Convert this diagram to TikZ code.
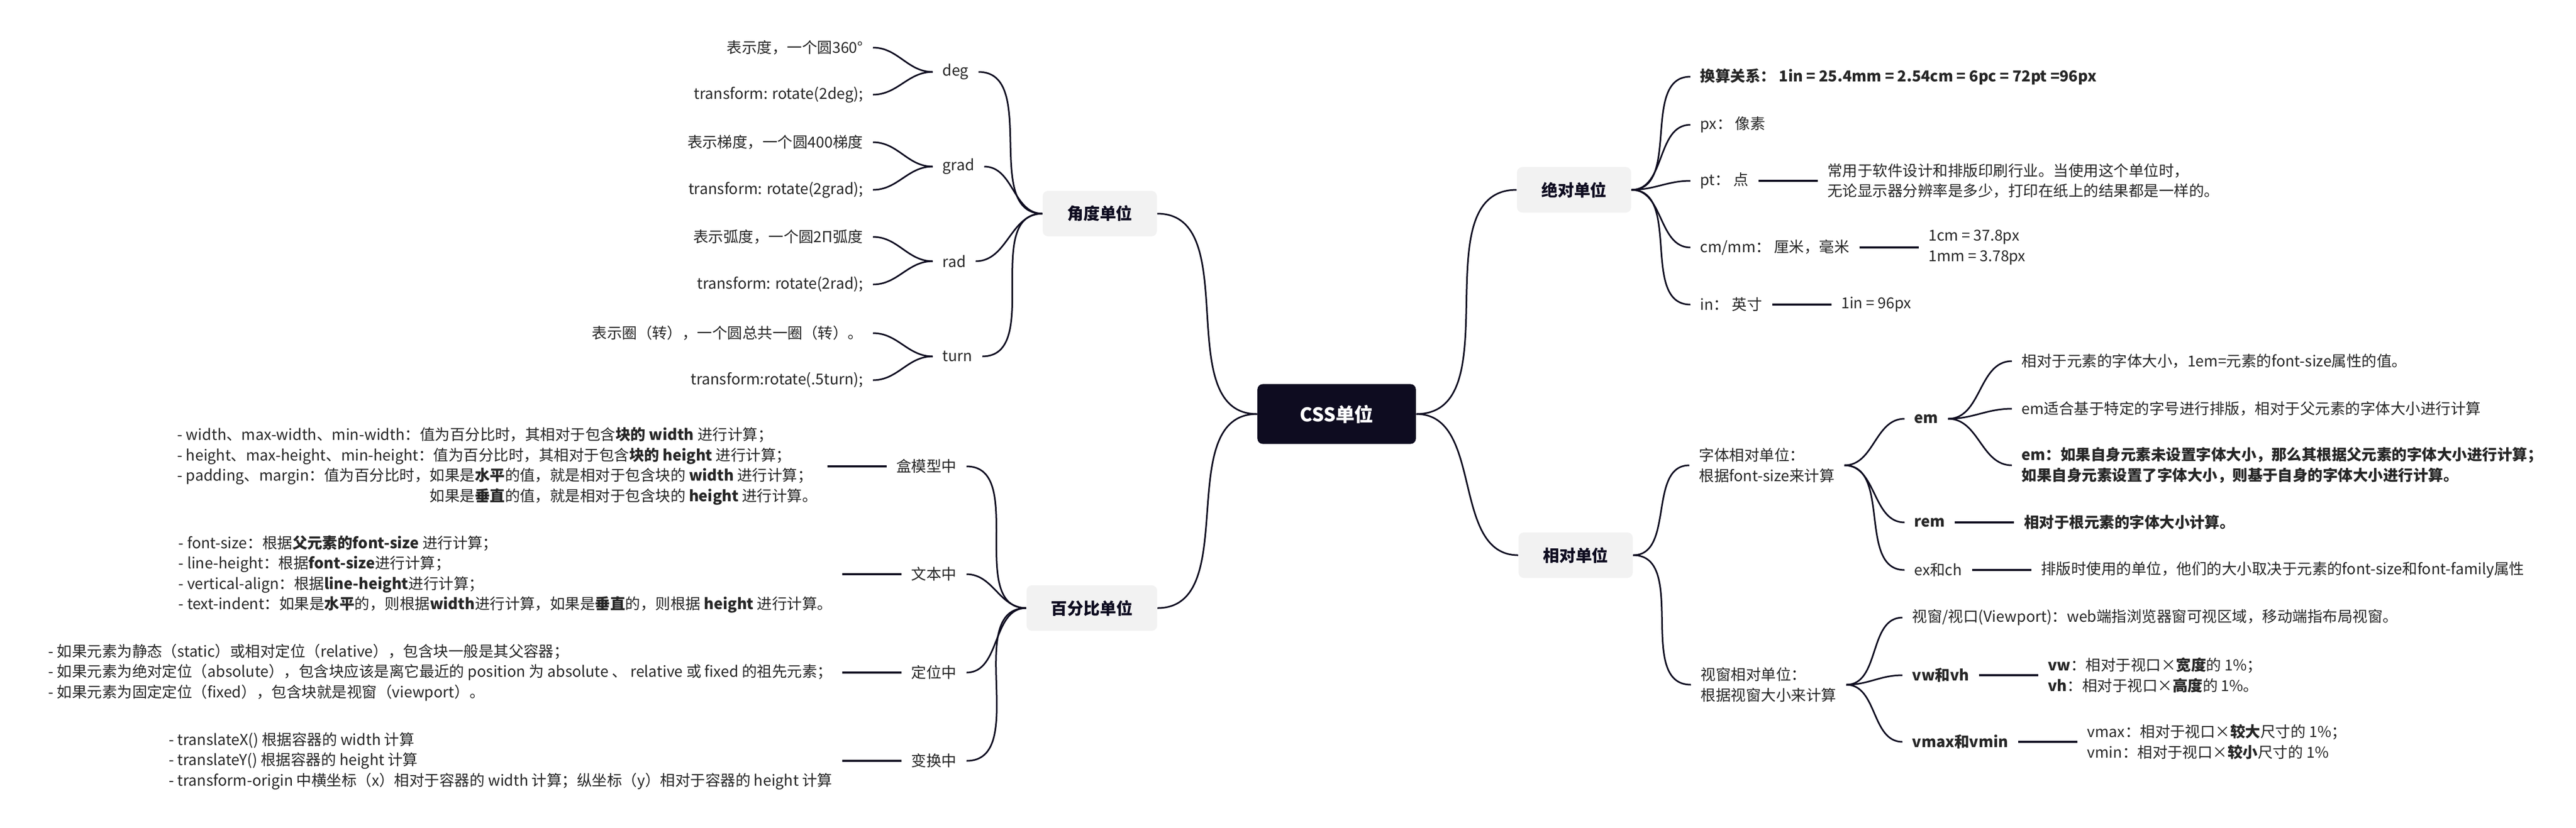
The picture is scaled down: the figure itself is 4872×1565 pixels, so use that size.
\documentclass[tikz,border=0pt]{standalone}
\usepackage{fontspec}
\setmainfont{Noto Sans CJK SC}
\usepackage{tikz}
\usetikzlibrary{positioning}
\definecolor{ink}{RGB}{14,12,32}
\definecolor{txt}{RGB}{38,38,38}
\definecolor{pale}{RGB}{242,242,242}
\tikzset{node distance=1.12cm,
  every node/.style={text=txt, font=\fontsize{8.1}{10.95}\selectfont, inner xsep=0.18cm, inner ysep=0.04cm, align=left},
  root/.style={fill=ink, text=white, rounded corners=0.1cm, font=\fontsize{10.2}{12}\selectfont\bfseries, inner xsep=0.8cm, minimum height=1.13cm},
  topic/.style={fill=pale, text=ink, rounded corners=0.1cm, font=\fontsize{8.8}{11}\selectfont\bfseries, inner xsep=0.46cm, minimum height=0.86cm},
  every edge/.style={draw=ink, line width=0.03cm},
  tol/.style={out=180, in=0}, tor/.style={out=0, in=180},
  stem/.style={line width=0.04cm}}

\begin{document}
\begin{tikzpicture}[x=0.01cm, y=-0.01cm]
\useasboundingbox (0,0) rectangle (4872,1565);
\node[root] (css) at (2528,783) {CSS单位};
\node[topic] (jiao) at (2080,404) {角度单位};
\node[topic] (bai) at (2065,1150) {百分比单位};
\node[topic] (jue) at (2977,359) {绝对单位};
\node[topic] (xiang) at (2980,1050) {相对单位};

\node[anchor=west] (deg) at (1764,136) {deg};
\node[anchor=west] (grad) at (1764,315) {grad};
\node[anchor=west] (rad) at (1764,494) {rad};
\node[anchor=west] (turn) at (1764,674) {turn};
\node[anchor=east] (deg1) at (1651,90) {表示度，一个圆360°};
\node[anchor=east] (deg2) at (1651,179) {transform: rotate(2deg);};
\node[anchor=east] (grad1) at (1651,269) {表示梯度，一个圆400梯度};
\node[anchor=east] (grad2) at (1651,359) {transform: rotate(2grad);};
\node[anchor=east] (rad1) at (1651,448) {表示弧度，一个圆2Π弧度};
\node[anchor=east] (rad2) at (1651,538) {transform: rotate(2rad);};
\node[anchor=east] (turn1) at (1651,630) {表示圈（转），一个圆总共一圈（转）。};
\node[anchor=east] (turn2) at (1651,719) {transform:rotate(.5turn);};

\node[anchor=east] (box) at (1828,882) {盒模型中};
\node[anchor=east] (text) at (1828,1086) {文本中};
\node[anchor=east] (pos) at (1828,1272) {定位中};
\node[anchor=east] (trans) at (1828,1439) {变换中};
\node[left=of box] (boxn) {- width、max-width、min-width：值为百分比时，其相对于包含\textbf{块的 width} 进行计算；\\
- height、max-height、min-height：值为百分比时，其相对于包含\textbf{块的 height} 进行计算；\\
- padding、margin：值为百分比时，如果是\textbf{水平}的值，就是相对于包含块的 \textbf{width} 进行计算；\\
\phantom{- padding、margin：值为百分比时，}如果是\textbf{垂直}的值，就是相对于包含块的 \textbf{height} 进行计算。};
\node[left=of text] (textn) {- font-size：根据\textbf{父元素的font-size} 进行计算；\\
- line-height：根据\textbf{font-size}进行计算；\\
- vertical-align：根据\textbf{line-height}进行计算；\\
- text-indent：如果是\textbf{水平}的，则根据\textbf{width}进行计算，如果是\textbf{垂直}的，则根据 \textbf{height} 进行计算。};
\node[left=of pos] (posn) {- 如果元素为静态（static）或相对定位（relative），包含块一般是其父容器；\\
- 如果元素为绝对定位（absolute），包含块应该是离它最近的 position 为 absolute 、 relative 或 fixed 的祖先元素；\\
- 如果元素为固定定位（fixed），包含块就是视窗（viewport）。};
\node[left=of trans] (transn) {- translateX() 根据容器的 width 计算\\
- translateY() 根据容器的 height 计算\\
- transform-origin 中横坐标（x）相对于容器的 width 计算；纵坐标（y）相对于容器的 height 计算};

\node[anchor=west] (rate) at (3197,145) {\textbf{换算关系：  1in = 25.4mm = 2.54cm = 6pc = 72pt =96px}};
\node[anchor=west] (px) at (3197,236) {px： 像素};
\node[anchor=west] (pt) at (3197,342) {pt：  点};
\node[anchor=west] (cm) at (3197,468) {cm/mm：  厘米，毫米};
\node[anchor=west] (inch) at (3197,576) {in：  英寸};
\node[right=of pt] (ptn) {常用于软件设计和排版印刷行业。当使用这个单位时，\\无论显示器分辨率是多少，打印在纸上的结果都是一样的。};
\node[right=of cm] (cmn) {1cm = 37.8px\\1mm = 3.78px};
\node[right=of inch] (inchn) {1in = 96px};

\node[anchor=west] (font) at (3195,880) {字体相对单位：\\根据font-size来计算};
\node[anchor=west] (view) at (3198,1295) {视窗相对单位：\\根据视窗大小来计算};
\node[anchor=west] (em) at (3602,792) {\textbf{em}};
\node[anchor=west] (rem) at (3602,988) {\textbf{rem}};
\node[anchor=west] (exch) at (3602,1078) {ex和ch};
\node[anchor=west] (em1) at (3805,683) {相对于元素的字体大小，1em=元素的font-size属性的值。};
\node[anchor=west] (em2) at (3805,773) {em适合基于特定的字号进行排版，相对于父元素的字体大小进行计算};
\node[anchor=west] (em3) at (3805,880) {\textbf{em：如果自身元素未设置字体大小，那么其根据父元素的字体大小进行计算；}\\\textbf{如果自身元素设置了字体大小，则基于自身的字体大小进行计算。}};
\node[right=of rem] (remn) {\textbf{相对于根元素的字体大小计算。}};
\node[right=of exch] (exchn) {排版时使用的单位，他们的大小取决于元素的font-size和font-family属性};
\node[anchor=west] (port) at (3598,1168) {视窗/视口(Viewport)：web端指浏览器窗可视区域，移动端指布局视窗。};
\node[anchor=west] (vw) at (3598,1277) {\textbf{vw和vh}};
\node[anchor=west] (vmax) at (3598,1403) {\textbf{vmax和vmin}};
\node[right=of vw] (vwn) {\textbf{vw}：相对于视口×\textbf{宽度}的 1\%；\\\textbf{vh}：相对于视口×\textbf{高度}的 1\%。};
\node[right=of vmax] (vmaxn) {vmax：相对于视口×\textbf{较大}尺寸的 1\%；\\vmin：相对于视口×\textbf{较小}尺寸的 1\%};

\draw (css.west) edge[tol] (jiao.east) edge[tol] (bai.east)
      (css.east) edge[tor] (jue.west) edge[tor] (xiang.west)
      (jiao.west) edge[tol] (deg.east) edge[tol] (grad.east) edge[tol] (rad.east) edge[tol] (turn.east)
      (deg.west) edge[tol] (deg1.east) edge[tol] (deg2.east)
      (grad.west) edge[tol] (grad1.east) edge[tol] (grad2.east)
      (rad.west) edge[tol] (rad1.east) edge[tol] (rad2.east)
      (turn.west) edge[tol] (turn1.east) edge[tol] (turn2.east)
      (bai.west) edge[tol] (box.east) edge[tol] (text.east) edge[tol] (pos.east) edge[tol] (trans.east)
      (box) edge[stem] (boxn) (text) edge[stem] (textn) (pos) edge[stem] (posn) (trans) edge[stem] (transn)
      (jue.east) edge[tor] (rate.west) edge[tor] (px.west) edge[tor] (pt.west) edge[tor] (cm.west) edge[tor] (inch.west)
      (pt) edge[stem] (ptn) (cm) edge[stem] (cmn) (inch) edge[stem] (inchn)
      (xiang.east) edge[tor] (font.west) edge[tor] (view.west)
      (font.east) edge[tor] (em.west) edge[tor] (rem.west) edge[tor] (exch.west)
      (em.east) edge[tor] (em1.west) edge[tor] (em2.west) edge[tor] (em3.west)
      (rem) edge[stem] (remn) (exch) edge[stem] (exchn)
      (view.east) edge[tor] (port.west) edge[tor] (vw.west) edge[tor] (vmax.west)
      (vw) edge[stem] (vwn) (vmax) edge[stem] (vmaxn);
\end{tikzpicture}
\end{document}
